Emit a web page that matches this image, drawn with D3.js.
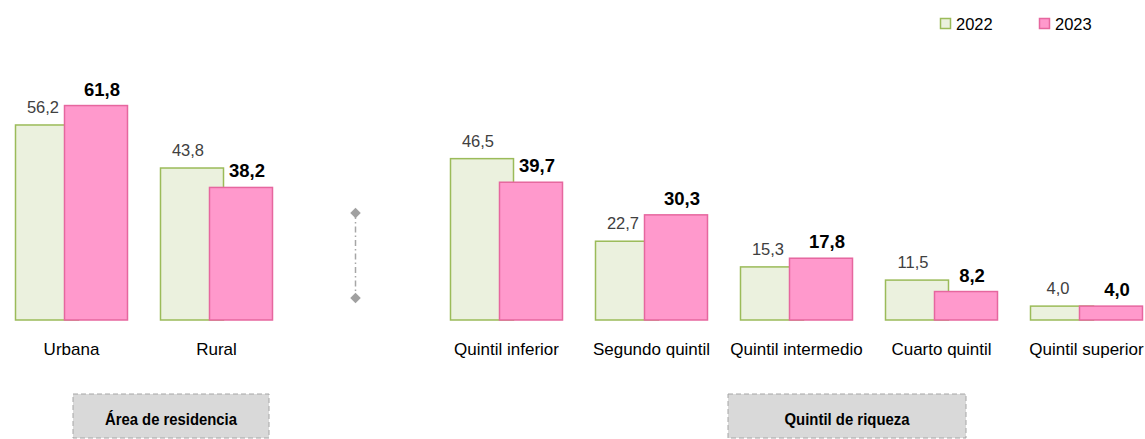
<!DOCTYPE html>
<html><head><meta charset="utf-8">
<script src="https://cdn.jsdelivr.net/npm/d3@7"></script>
<style>
html,body{margin:0;padding:0;background:#fff;}
svg{display:block;font-family:"Liberation Sans",Arial,sans-serif;}
</style></head>
<body>
<svg id="chart" width="1145" height="439"></svg>
<script>
const categories = ["Urbana","Rural","","Quintil inferior","Segundo quintil","Quintil intermedio","Cuarto quintil","Quintil superior"];
const years = ["2022","2023"];
const values2022 = [56.2, 43.8, null, 46.5, 22.7, 15.3, 11.5, 4.0];
const values2023 = [61.8, 38.2, null, 39.7, 30.3, 17.8, 8.2, 4.0];
const groupLabels = ["Área de residencia","Quintil de riqueza"];

const colors = {
  "2022": {fill:"#ebf1de", stroke:"#9bbb59"},
  "2023": {fill:"#ff99cc", stroke:"#e6679f"}
};

const svg = d3.select("#chart");
const baseY = 320;
const x = d3.scaleBand().domain(categories).range([-1, 1159]).paddingInner(0).paddingOuter(0);
const xi = d3.scalePoint().domain(years).range([-24.5, 24.5]);
const barW = 64;
const y = d3.scaleLinear().domain([0, 70]).range([baseY, baseY - 70*3.47]);

const series = years.map((yr, k) => ({year: yr, vals: (k===0?values2022:values2023)}));

const rows = [];
series.forEach(s => s.vals.forEach((v,i) => { if (v!=null) rows.push({year:s.year, cat:categories[i], v}); }));

const cx = d => x(d.cat) + x.bandwidth()/2 + xi(d.year);

svg.append("g").selectAll("rect").data(rows).join("rect")
  .attr("x", d => cx(d) - barW/2 + 0.5)
  .attr("y", d => y(d.v))
  .attr("width", barW - 1)
  .attr("height", d => baseY - y(d.v))
  .attr("fill", d => colors[d.year].fill)
  .attr("stroke", d => colors[d.year].stroke)
  .attr("stroke-width", 1.5);

const fmt = v => d3.format(".1f")(v).replace(".", ",");
svg.append("g").selectAll("text").data(rows).join("text")
  .attr("x", d => cx(d) + (d.year==="2022" ? -4 : 6))
  .attr("y", d => y(d.v) - (d.year==="2022" ? 12 : 10))
  .attr("text-anchor","middle")
  .attr("font-size", d => d.year==="2022" ? 16.5 : 18.5)
  .attr("font-weight", d => d.year==="2022" ? "normal" : "bold")
  .attr("fill", d => d.year==="2022" ? "#404040" : "#000")
  .text(d => fmt(d.v));

// category labels
svg.append("g").selectAll("text").data(categories.filter(c=>c!=="")).join("text")
  .attr("x", c => x(c) + x.bandwidth()/2)
  .attr("y", 355)
  .attr("text-anchor","middle")
  .attr("font-size", 17)
  .attr("fill","#000")
  .text(c => c);

// separator in the empty slot
const sepX = x("") + x.bandwidth()/2 - 6;
svg.append("line").attr("x1", sepX).attr("x2", sepX).attr("y1", 213).attr("y2", 298)
  .attr("stroke","#a6a6a6").attr("stroke-width",1.5).attr("stroke-dasharray","6,3,1.5,3");
[213, 298].forEach(yy => {
  svg.append("path").attr("d", d3.symbol().type(d3.symbolDiamond2 || d3.symbolDiamond).size(70)())
    .attr("transform", `translate(${sepX},${yy})`).attr("fill","#a0a0a0");
});

// group boxes
const boxes = [
  {label: groupLabels[0], x0: 73, x1: 269, tl: 132},
  {label: groupLabels[1], x0: 728, x1: 966, tl: 125}
];
boxes.forEach(b => {
  svg.append("rect").attr("x", b.x0).attr("y", 394).attr("width", b.x1-b.x0).attr("height", 44)
    .attr("fill","#d9d9d9").attr("stroke","#a6a6a6").attr("stroke-width",1)
    .attr("stroke-dasharray","5,3");
  svg.append("text").attr("x",(b.x0+b.x1)/2).attr("y", 425)
    .attr("text-anchor","middle").attr("font-size",17).attr("font-weight","bold")
    .attr("textLength", b.tl).attr("lengthAdjust","spacingAndGlyphs")
    .attr("fill","#000").text(b.label);
});

// legend
const legX = [940, 1039];
years.forEach((yr, k) => {
  svg.append("rect").attr("x", legX[k]+0.5).attr("y", 18.5).attr("width", 10).attr("height", 10)
    .attr("fill", colors[yr].fill).attr("stroke", colors[yr].stroke).attr("stroke-width",1.5);
  svg.append("text").attr("x", legX[k]+16).attr("y", 30).attr("font-size", 16.5)
    .attr("fill","#000").text(yr);
});
</script>
</body></html>
